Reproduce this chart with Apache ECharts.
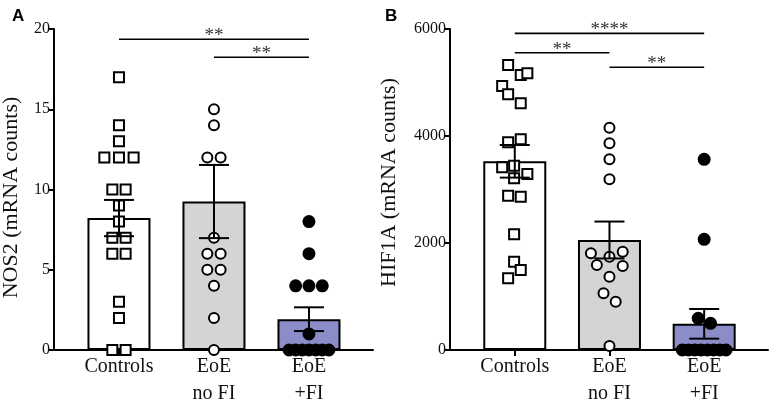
<!DOCTYPE html>
<html>
<head>
<meta charset="utf-8">
<script src="https://cdn.jsdelivr.net/npm/echarts@6/dist/echarts.min.js"></script>
<style>
html,body{margin:0;padding:0;background:#fff;}
#chart{width:772px;height:403px;}
</style>
</head>
<body>
<div id="chart"></div>
<script>
// ---------- data ----------
const categories = ['Controls', 'EoE\nno FI', 'EoE\n+FI'];

// Panel A: NOS2
const nosMeans = [8.22, 9.25, 1.92];
const nosSem = [1.13, 2.28, 0.74];
const nosControls = [17, 14, 13, 12, 12, 12, 10, 10, 9, 8, 7, 7, 6, 6, 3, 2, 0, 0];
const nosControlsJitter = [0, 0, 0, -1.1, 0, 1.1, -0.5, 0.5, 0, 0, -0.5, 0.5, -0.5, 0.5, 0, 0, -0.5, 0.5];
const nosNoFI = [15, 14, 12, 12, 7, 6, 6, 5, 5, 4, 2, 0];
const nosNoFIJitter = [0, 0, -0.5, 0.5, 0, -0.5, 0.5, -0.5, 0.5, 0, 0, 0];
const nosFI = [8, 6, 4, 4, 4, 1, 0, 0, 0, 0, 0, 0, 0];
const nosFIJitter = [0, 0, -1, 0, 1, 0, -1.5, -1, -0.5, 0, 0.5, 1, 1.5];
const nosBrackets = [[0, 2, 19.36, '**'], [1, 2, 18.24, '**']];
const nosTicks = { min: 0, max: 20, interval: 5 };

// Panel B: HIF1A
const hifMeans = [3527, 2056, 489];
const hifSem = [305, 345, 277];
const hifControls = [5327, 5140, 5171, 4935, 4779, 4611, 3882, 3938, 3414, 3445, 3290, 3209, 2885, 2866, 2162, 1651, 1495, 1340];
const hifControlsJitter = [-0.5, 0.45, 0.95, -0.95, -0.5, 0.45, -0.5, 0.45, -0.95, -0.05, 0.95, -0.05, -0.5, 0.45, -0.05, -0.05, 0.45, -0.5];
const hifNoFI = [4156, 3863, 3564, 3190, 1807, 1838, 1745, 1589, 1570, 1371, 1059, 903, 75];
const hifNoFIJitter = [0, 0, 0, 0, -1.4, 1.0, 0, -0.95, 1.0, 0, -0.45, 0.47, 0];
const hifFI = [3564, 2069, 592, 498, 0, 0, 0, 0, 0, 0, 0, 0];
const hifFIJitter = [0, 0, -0.45, 0.48, -1.65, -1.18, -0.71, -0.24, 0.24, 0.71, 1.18, 1.65];
const hifBrackets = [[0, 2, 5919, '****'], [0, 1, 5557, '**'], [1, 2, 5284, '**']];
const hifTicks = { min: 0, max: 6000, interval: 2000 };

const yNames = ['NOS2 (mRNA counts)', 'HIF1A (mRNA counts)'];
const panelLetters = ['A', 'B'];

// ---------- style ----------
const SERIF = '"Liberation Serif", "Times New Roman", serif';
const barColors = ['#ffffff', '#d4d4d4', '#8a8dc8'];
const SLOT = 0.14; // jitter unit in category widths
const X_MIN = -0.684, X_MAX = 2.674;

function pts(vals, jit, g) {
  return vals.map((v, i) => [g + jit[i] * SLOT, v]);
}

function makeAxes(gi, ticks, name, namePad, nameGap) {
  const x = {
    type: 'value', gridIndex: gi, min: X_MIN, max: X_MAX,
    splitLine: { show: false },
    axisLine: { onZero: false, lineStyle: { color: '#000', width: 2 } },
    axisTick: { show: true, customValues: [0, 1, 2], length: 6, lineStyle: { color: '#000', width: 2 } },
    axisLabel: {
      customValues: [0, 1, 2], margin: 3,
      formatter: v => categories[Math.round(v)],
      fontFamily: SERIF, fontSize: 20, lineHeight: 27, color: '#111', verticalAlign: 'top'
    }
  };
  const y = {
    type: 'value', gridIndex: gi, min: ticks.min, max: ticks.max, interval: ticks.interval,
    splitLine: { show: false },
    axisLine: { show: true, onZero: false, lineStyle: { color: '#000', width: 2 } },
    axisTick: { show: true, length: 6, lineStyle: { color: '#000', width: 2 } },
    axisLabel: { fontFamily: SERIF, fontSize: 16, color: '#111', margin: 4, formatter: v => String(v) },
    name: name, nameLocation: 'middle', nameGap: nameGap,
    nameTextStyle: { fontFamily: SERIF, fontSize: 22, color: '#111', padding: namePad }
  };
  return [x, y];
}

function barSeries(gi, means) {
  return {
    type: 'bar', xAxisIndex: gi, yAxisIndex: gi, barWidth: 63, z: 1,
    data: means.map((m, i) => ({ value: [i, m], itemStyle: { color: barColors[i] } })),
    itemStyle: { borderColor: '#000', borderWidth: 2 },
    silent: true
  };
}

function scatterSeries(gi, data, symbol, fill, size) {
  return {
    type: 'scatter', xAxisIndex: gi, yAxisIndex: gi, z: 3,
    symbol: symbol, symbolSize: size,
    itemStyle: { color: fill, borderColor: '#000', borderWidth: 2, opacity: 1 },
    data: data, silent: true
  };
}

function errorSeries(gi, means, sems) {
  return {
    type: 'custom', xAxisIndex: gi, yAxisIndex: gi, z: 5, silent: true,
    data: means.map((m, i) => [i, m, sems[i]]),
    encode: { x: 0, y: 1 },
    renderItem: function (params, api) {
      const x = api.value(0), m = api.value(1), s = api.value(2);
      const top = api.coord([x, m + s]);
      const bot = api.coord([x, m - s]);
      const hw = 15;
      const st = { stroke: '#000', lineWidth: 2 };
      return {
        type: 'group', children: [
          { type: 'line', shape: { x1: top[0], y1: top[1], x2: bot[0], y2: bot[1] }, style: st },
          { type: 'line', shape: { x1: top[0] - hw, y1: top[1], x2: top[0] + hw, y2: top[1] }, style: st },
          { type: 'line', shape: { x1: bot[0] - hw, y1: bot[1], x2: bot[0] + hw, y2: bot[1] }, style: st }
        ]
      };
    }
  };
}

function bracketSeries(gi, brackets) {
  return {
    type: 'custom', xAxisIndex: gi, yAxisIndex: gi, z: 6, silent: true,
    data: brackets.map(b => [b[0], b[1], b[2]]),
    encode: { x: [0, 1], y: 2 },
    renderItem: function (params, api) {
      const a = api.coord([api.value(0), api.value(2)]);
      const b = api.coord([api.value(1), api.value(2)]);
      const label = brackets[params.dataIndex][3];
      return {
        type: 'group', children: [
          { type: 'line', shape: { x1: a[0], y1: a[1], x2: b[0], y2: b[1] }, style: { stroke: '#000', lineWidth: 1.6 } },
          { type: 'text', style: { text: label, x: (a[0] + b[0]) / 2, y: a[1] - 3, align: 'center', verticalAlign: 'middle',
              font: '19px ' + SERIF, fill: '#333' } }
        ]
      };
    }
  };
}

const axA = makeAxes(0, nosTicks, yNames[0], [0, 16, 0, 0], 32);
const axB = makeAxes(1, hifTicks, yNames[1], [0, 0, 0, 14], 50);

const option = {
  backgroundColor: '#fff',
  animation: false,
  title: [
    { text: panelLetters[0], left: 7, top: 3, textStyle: { fontFamily: '"Liberation Sans", Arial, sans-serif', fontWeight: 'bold', fontSize: 17, color: '#000' } },
    { text: panelLetters[1], left: 380, top: 3, textStyle: { fontFamily: '"Liberation Sans", Arial, sans-serif', fontWeight: 'bold', fontSize: 17, color: '#000' } }
  ],
  grid: [
    { left: 54, width: 319, top: 29, height: 321, containLabel: false, outerBoundsMode: 'none' },
    { left: 450, width: 318, top: 29, height: 321, containLabel: false, outerBoundsMode: 'none' }
  ],
  xAxis: [axA[0], axB[0]],
  yAxis: [axA[1], axB[1]],
  series: [
    barSeries(0, nosMeans),
    scatterSeries(0, pts(nosControls, nosControlsJitter, 0), 'rect', '#fff', 10),
    scatterSeries(0, pts(nosNoFI, nosNoFIJitter, 1), 'circle', '#fff', 10),
    scatterSeries(0, pts(nosFI, nosFIJitter, 2), 'circle', '#000', 11),
    errorSeries(0, nosMeans, nosSem),
    bracketSeries(0, nosBrackets),

    barSeries(1, hifMeans),
    scatterSeries(1, pts(hifControls, hifControlsJitter, 0), 'rect', '#fff', 10),
    scatterSeries(1, pts(hifNoFI, hifNoFIJitter, 1), 'circle', '#fff', 10),
    scatterSeries(1, pts(hifFI, hifFIJitter, 2), 'circle', '#000', 11),
    errorSeries(1, hifMeans, hifSem),
    bracketSeries(1, hifBrackets)
  ]
};

const chart = echarts.init(document.getElementById('chart'), null, { renderer: 'canvas' });
chart.setOption(option);
</script>
</body>
</html>
